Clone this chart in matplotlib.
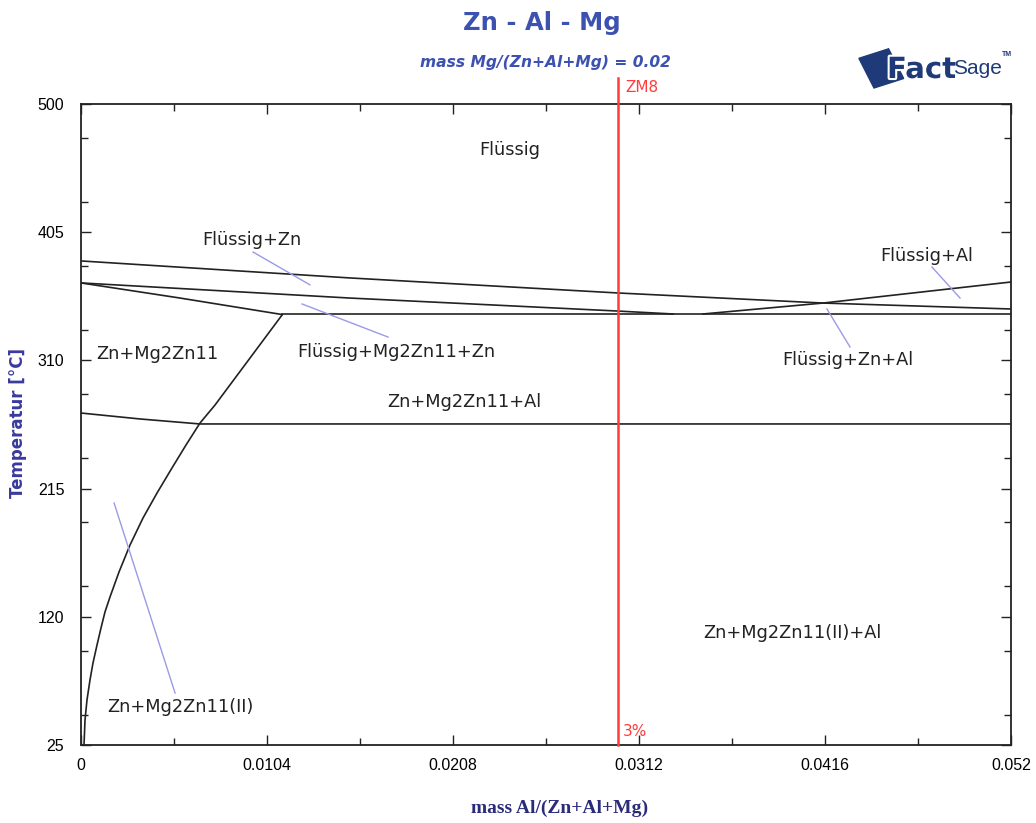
import numpy as np
import matplotlib.pyplot as plt
import matplotlib.patches as patches
import matplotlib.patheffects as pe
from matplotlib.ticker import MultipleLocator, FixedLocator

# --- phase boundaries (mass Al fraction, temperature in C) ---
liq_zn_x = [0.0, 0.01504, 0.02997, 0.04149, 0.052]
liq_zn_t = [383.7, 371.1, 360.0, 352.5, 348.1]

liq2_x = [0.0, 0.01504, 0.02997, 0.0331]
liq2_t = [367.4, 356.2, 346.6, 344.4]

liq_al_x = [0.03478, 0.04149, 0.052]
liq_al_t = [344.4, 352.5, 368.1]

eut_x = [0.01124, 0.052]
eut_t = [344.4, 344.4]

sol_x = [0.0, 0.00554, 0.01124]
sol_t = [367.4, 356.2, 344.0]

mg_x = [0.011239, 0.007492, 0.006654, 0.005871, 0.005088, 0.004249,
        0.003467, 0.002740, 0.002125, 0.001622, 0.001342, 0.001118,
        0.000895, 0.000671, 0.000503, 0.000335, 0.000224, 0.000168]
mg_t = [343.6, 276.9, 263.6, 247.3, 230.3, 211.7,
        193.2, 173.2, 153.2, 134.7, 123.6, 111.7,
        99.1, 85.8, 73.2, 58.4, 43.5, 25.0]

low_x = [0.0, 0.0033, 0.00665, 0.052]
low_t = [271.0, 266.6, 262.9, 262.9]

boundaries = [(liq_zn_x, liq_zn_t), (liq2_x, liq2_t), (liq_al_x, liq_al_t),
              (eut_x, eut_t), (sol_x, sol_t), (mg_x, mg_t), (low_x, low_t)]

# --- region labels ---
labels = ["Flüssig", "Flüssig+Zn", "Flüssig+Al", "Zn+Mg2Zn11",
          "Flüssig+Mg2Zn11+Zn", "Flüssig+Zn+Al", "Zn+Mg2Zn11+Al",
          "Zn+Mg2Zn11(II)+Al", "Zn+Mg2Zn11(II)"]
label_x = [0.02399, 0.00956, 0.0473, 0.00425, 0.01761, 0.04289, 0.02141,
           0.03975, 0.00554]
label_t = [465.9, 399.2, 387.4, 314.7, 316.2, 310.3, 279.2, 108.0, 53.2]

# pointer lines (x0, t0, x1, t1)
pointers = [(0.00962, 390.3, 0.01280, 366.0),
            (0.01236, 351.8, 0.01717, 327.3),
            (0.04758, 379.2, 0.04915, 356.2),
            (0.04171, 348.1, 0.04300, 319.9),
            (0.00185, 204.3, 0.00526, 63.5)]

zm8_x = 0.03

xticks = [0, 0.0104, 0.0208, 0.0312, 0.0416, 0.052]
xticklabels = ["0", "0.0104", "0.0208", "0.0312", "0.0416", "0.052"]
yticks = [25, 120, 215, 310, 405, 500]

W, H = 1036, 823
fig = plt.figure(figsize=(W / 100, H / 100), dpi=100)
ax = fig.add_axes([81 / W, 1 - 745 / H, 930 / W, 641 / H])

for bx, bt in boundaries:
    ax.plot(bx, bt, color='#222222', lw=1.2)

for x0, t0, x1, t1 in pointers:
    ax.plot([x0, x1], [t0, t1], color='#9a9ae6', lw=1.0)

for txt, lx, lt in zip(labels, label_x, label_t):
    ax.text(lx, lt, txt, ha='center', va='center', fontsize=12.8,
            family='DejaVu Sans', color='#222222')

ax.plot([zm8_x, zm8_x], [25, 519.5], color='#ff3b3b', lw=1.8, clip_on=False,
        zorder=5)
ax.text(zm8_x + 0.00045, 512, "ZM8", color='#ff3b3b', fontsize=11,
        family='DejaVu Sans', va='center', ha='left', clip_on=False)
ax.text(zm8_x + 0.0003, 35, "3%", color='#ff3b3b', fontsize=11,
        family='DejaVu Sans', va='center', ha='left')

ax.set_xlim(0, 0.052)
ax.set_ylim(25, 500)
ax.xaxis.set_major_locator(FixedLocator(xticks))
ax.set_xticklabels(xticklabels)
ax.xaxis.set_minor_locator(MultipleLocator(0.0052))
ax.yaxis.set_major_locator(FixedLocator(yticks))
ax.yaxis.set_minor_locator(MultipleLocator(47.5))
ax.tick_params(which='both', direction='in', top=True, right=True,
               width=1.0, colors='#222222', labelcolor='black',
               labelsize=11.5, labelfontfamily='Liberation Sans')
ax.tick_params(which='major', length=7)
ax.tick_params(which='minor', length=5)
ax.tick_params(axis='x', pad=9)
ax.tick_params(axis='y', pad=12)
for s in ax.spines.values():
    s.set_linewidth(1.3)
    s.set_color('#222222')

fig.text(542 / W, 1 - 23 / H, "Zn - Al - Mg", ha='center', va='center',
         fontsize=17.5, fontweight='bold', family='DejaVu Sans',
         color='#3d52b0')
fig.text(545 / W, 1 - 62 / H, "mass Mg/(Zn+Al+Mg) = 0.02", ha='center',
         va='center', fontsize=11.2, fontweight='bold', style='italic',
         family='DejaVu Sans', color='#3d52b0')
fig.text(18 / W, 1 - 423 / H, "Temperatur [°C]", rotation=90, ha='center',
         va='center', fontsize=12, fontweight='bold',
         family='DejaVu Sans', color='#3a3a9e')
fig.text(560 / W, 1 - 808 / H, "mass Al/(Zn+Al+Mg)", ha='center',
         va='center', fontsize=14, fontweight='bold',
         family='Liberation Serif', color='#2b2b7b')

# FactSage logo
navy = '#1f3a78'
sq = patches.Rectangle((874 / W, 1 - 88 / H), 32 / W, 32 / H, angle=22,
                       transform=fig.transFigure, color=navy, zorder=1)
fig.add_artist(sq)
fig.text(887 / W, 1 - 70 / H, "Fact", fontsize=21, fontweight='bold',
         family='DejaVu Sans', color=navy, va='center', ha='left',
         path_effects=[pe.withStroke(linewidth=3, foreground='white')])
fig.text(953 / W, 1 - 68 / H, "Sage", fontsize=15, family='Liberation Sans',
         color=navy, va='center', ha='left')
fig.text(1002 / W, 1 - 54 / H, "TM", fontsize=5, fontweight='bold',
         family='Liberation Sans', color=navy, va='center', ha='left')

fig.savefig('out.png', dpi=100)
